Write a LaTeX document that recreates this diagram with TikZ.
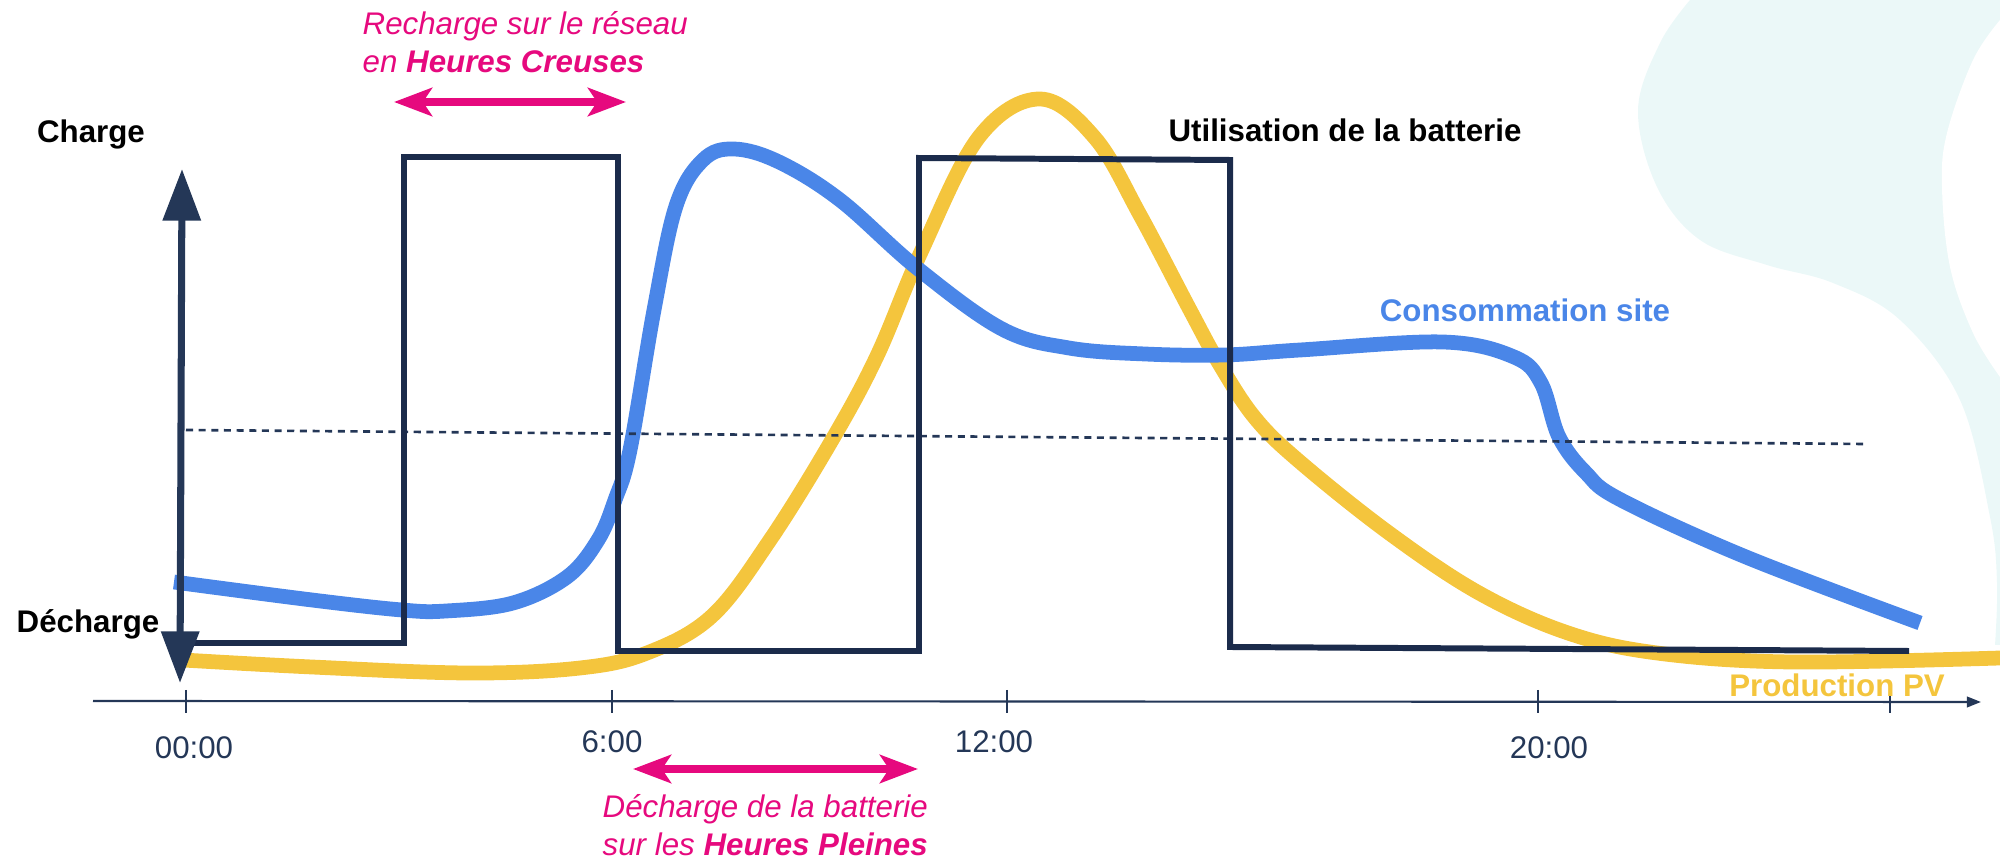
\documentclass[tikz,border=0pt]{standalone}
\usepackage{fontspec}
\setmainfont{Liberation Sans}
\usepackage{tikz}
\usepackage{xcolor}
\usetikzlibrary{positioning,arrows.meta}
\definecolor{navy}{HTML}{1B2B4B}
\definecolor{axisnavy}{HTML}{243757}
\definecolor{consoblue}{HTML}{4A86E8}
\definecolor{pvyellow}{HTML}{F4C53D}
\definecolor{hcpink}{HTML}{E6097E}
\definecolor{bgcyan}{HTML}{EBF8F8}

\begin{document}
\begin{tikzpicture}[
  curve/.style={line width=4.2pt,line cap=butt},
  wave/.style={navy,line width=1.7pt},
  axe/.style={axisnavy,line width=0.6pt},
  pinkarrow/.style={hcpink,line width=2pt,{Stealth[length=10.8pt,width=8pt,inset=2.6pt]}-{Stealth[length=10.8pt,width=8pt,inset=2.6pt]}},
  lbl/.style={font=\fontsize{8.9}{10.7}\selectfont\bfseries}]
\tikzstyle{every node}+=[inner sep=0pt,font=\fontsize{8.9}{10.7}\selectfont]
\useasboundingbox (0,0) rectangle (20,-8.58);
\fill[bgcyan] plot[smooth,tension=0.6] coordinates {(16.90,0) (16.60,-0.43) (16.38,-1.10) (16.57,-1.87) (17.00,-2.40) (17.67,-2.65) (18.33,-2.83) (19.00,-3.20) (19.60,-4.00) (19.90,-5.17) (19.97,-5.83) (19.95,-6.45)}
  -- (20,-6.45) -- (20,0) -- cycle;
\fill[white] plot[smooth,tension=0.6] coordinates {(20,-0.20) (19.73,-0.60) (19.47,-1.33) (19.42,-1.87) (19.50,-2.67) (19.73,-3.33) (20,-3.77)} -- cycle;
\draw[curve,pvyellow] plot[smooth,tension=0.6] coordinates {(1.83,-6.60) (3.12,-6.67) (4.69,-6.73) (5.80,-6.68) (6.47,-6.53) (7.12,-6.16) (7.70,-5.40) (8.32,-4.40) (8.77,-3.56) (9.21,-2.52) (9.79,-1.37) (10.40,-0.99) (10.95,-1.38) (11.40,-2.15) (11.90,-3.10) (12.20,-3.65) (12.55,-4.18) (13.00,-4.62) (13.89,-5.33) (14.79,-5.93) (15.68,-6.33) (16.57,-6.53) (17.91,-6.62) (20.00,-6.58)};
\draw[curve,consoblue] plot[smooth,tension=0.6] coordinates {(1.74,-5.82) (3.12,-6.00) (4.02,-6.10) (4.46,-6.11) (5.13,-6.03) (5.67,-5.77) (5.98,-5.40) (6.15,-5.00) (6.30,-4.50) (6.54,-3.10) (6.76,-2.06) (7.03,-1.60) (7.34,-1.49) (7.79,-1.62) (8.40,-2.00) (9.17,-2.68) (10.02,-3.29) (10.69,-3.48) (11.45,-3.54) (12.24,-3.55) (13.00,-3.50) (14.43,-3.42) (15.14,-3.57) (15.41,-3.83) (15.59,-4.37) (15.86,-4.73) (16.21,-5.00) (17.46,-5.57) (19.20,-6.23)};
\draw[axisnavy,line width=0.75pt,dash pattern=on 2pt off 1.6pt] (1.86,-4.30) -- (18.65,-4.44);
\draw[wave] (1.85,-6.43) -- (4.04,-6.43) -- (4.04,-1.57) -- (6.18,-1.57) -- (6.18,-6.51) -- (9.19,-6.51) -- (9.19,-1.58) -- (12.30,-1.60) -- (12.30,-6.47) -- (19.09,-6.51);
\coordinate (vtop) at (1.82,-1.69);
\coordinate (vbot) at (1.80,-6.83);
\draw[axisnavy,line width=2pt,{Triangle[length=14.7pt,width=10.5pt]}-{Triangle[length=14.7pt,width=10.5pt]}] (vbot) -- (vtop);
\coordinate (xstart) at (0.93,-7.01);
\coordinate (xend) at (19.81,-7.02);
\draw[axe,-{Triangle[length=4pt,width=3pt]}] (xstart) -- (xend);
\foreach \x in {1.86,6.12,10.07,15.38,18.90}
  \draw[axe] (\x,-6.90) -- (\x,-7.13);
\node[axisnavy] (t0) at (1.94,-7.48) {00:00};
\node[axisnavy] (t6) at (6.12,-7.42) {6:00};
\node[axisnavy] (t12) at (9.94,-7.42) {12:00};
\node[axisnavy] (t20) at (15.49,-7.48) {20:00};
\node[lbl] (charge) at (0.91,-1.34) {Charge};
\node[lbl] (decharge) at (0.88,-6.24) {Décharge};
\node[lbl] (utilisation) at (13.45,-1.30) {Utilisation de la batterie};
\node[lbl,consoblue] (conso) at (15.25,-3.10) {Consommation site};
\node[lbl,pvyellow] (prod) at (18.37,-6.85) {Production PV};
\node[hcpink,anchor=west,align=left,font=\fontsize{8.9}{10.7}\selectfont\itshape] (recharge) at (3.62,-0.42) {Recharge sur le réseau\\en \textbf{Heures Creuses}};
\node[hcpink,anchor=west,align=left,font=\fontsize{8.9}{10.7}\selectfont\itshape] (dechbat) at (6.02,-8.25) {Décharge de la batterie\\sur les \textbf{Heures Pleines}};
\coordinate (hc1) at (3.94,-1.02);
\coordinate (hc2) at (6.26,-1.02);
\draw[pinkarrow] (hc1) -- (hc2);
\coordinate (hp1) at (6.33,-7.69);
\coordinate (hp2) at (9.18,-7.69);
\draw[pinkarrow] (hp1) -- (hp2);
\end{tikzpicture}
\end{document}
